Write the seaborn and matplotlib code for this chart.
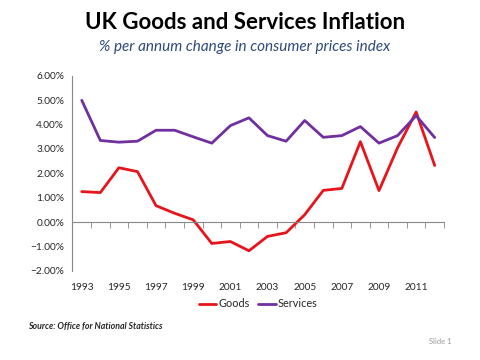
import numpy as np
import pandas as pd
import seaborn as sns
import matplotlib.pyplot as plt
from matplotlib.ticker import PercentFormatter

# Values (% per annum)
years = list(range(1993, 2013))
goods = [1.25, 1.21, 2.23, 2.07, 0.67, 0.36, 0.09, -0.88, -0.80, -1.18,
         -0.59, -0.44, 0.30, 1.30, 1.38, 3.30, 1.29, 3.05, 4.52, 2.32]
services = [5.00, 3.35, 3.28, 3.32, 3.77, 3.77, 3.50, 3.24, 3.96, 4.28,
            3.55, 3.32, 4.17, 3.48, 3.55, 3.92, 3.24, 3.55, 4.37, 3.47]
tick_years = [1993, 1995, 1997, 1999, 2001, 2003, 2005, 2007, 2009, 2011]

df = pd.DataFrame({"year": years * 2,
                   "value": goods + services,
                   "series": ["Goods"] * len(years) + ["Services"] * len(years)})

sns.set_style("white")
plt.rcParams['font.family'] = ['Lato', 'DejaVu Sans']

fig = plt.figure(figsize=(4.8, 3.6), dpi=100)
ax = fig.add_axes([0.151, 0.248, 0.774, 0.541])

sns.lineplot(data=df, x="year", y="value", hue="series",
             palette={"Goods": "#E8141B", "Services": "#7030A0"},
             linewidth=2.0, ax=ax, legend=True)

ax.set_xlim(years[0] - 0.5, years[-1] + 0.5)
ax.set_ylim(-2, 6)
ax.set_yticks(np.arange(-2, 7, 1))
ax.yaxis.set_major_formatter(PercentFormatter(decimals=2))
ax.set_xticks(tick_years)
ax.set_xticklabels([str(y) for y in tick_years])
ax.set_xticks(np.arange(years[0] - 0.5, years[-1] + 1.0, 1), minor=True)
ax.set_xlabel("")
ax.set_ylabel("")

for s in ["top", "right"]:
    ax.spines[s].set_visible(False)
for s in ["left", "bottom"]:
    ax.spines[s].set_color("#888888")
    ax.spines[s].set_linewidth(0.8)
ax.spines["bottom"].set_position(("data", 0))

ax.tick_params(axis="y", which="major", direction="out", length=4,
               color="#888888", labelsize=7.3, pad=2)
ax.tick_params(axis="x", which="major", length=0, labelsize=7.3, pad=44)
ax.tick_params(axis="x", which="minor", direction="out", length=4,
               color="#888888")
ax.tick_params(bottom=True, which="both")

ax.legend(loc="center", bbox_to_anchor=(0.5, -0.17), ncol=2,
          frameon=False, fontsize=7.8, handlelength=1.6, handletextpad=0.2,
          columnspacing=0.8)

fig.text(0.51, 0.938, "UK Goods and Services Inflation", ha="center",
         va="center", fontsize=16, fontweight="bold", color="black")
fig.text(0.51, 0.869, "% per annum change in consumer prices index",
         ha="center", va="center", fontsize=11, style="italic",
         color="#2F4A7A")
fig.text(0.058, 0.093, "Source: Office for National Statistics", ha="left",
         va="center", fontsize=6.3, style="italic", fontweight="bold")
fig.text(0.94, 0.05, "Slide 1", ha="right", va="center", fontsize=5.5,
         color="#999999")

fig.savefig("out.png", dpi=100)
